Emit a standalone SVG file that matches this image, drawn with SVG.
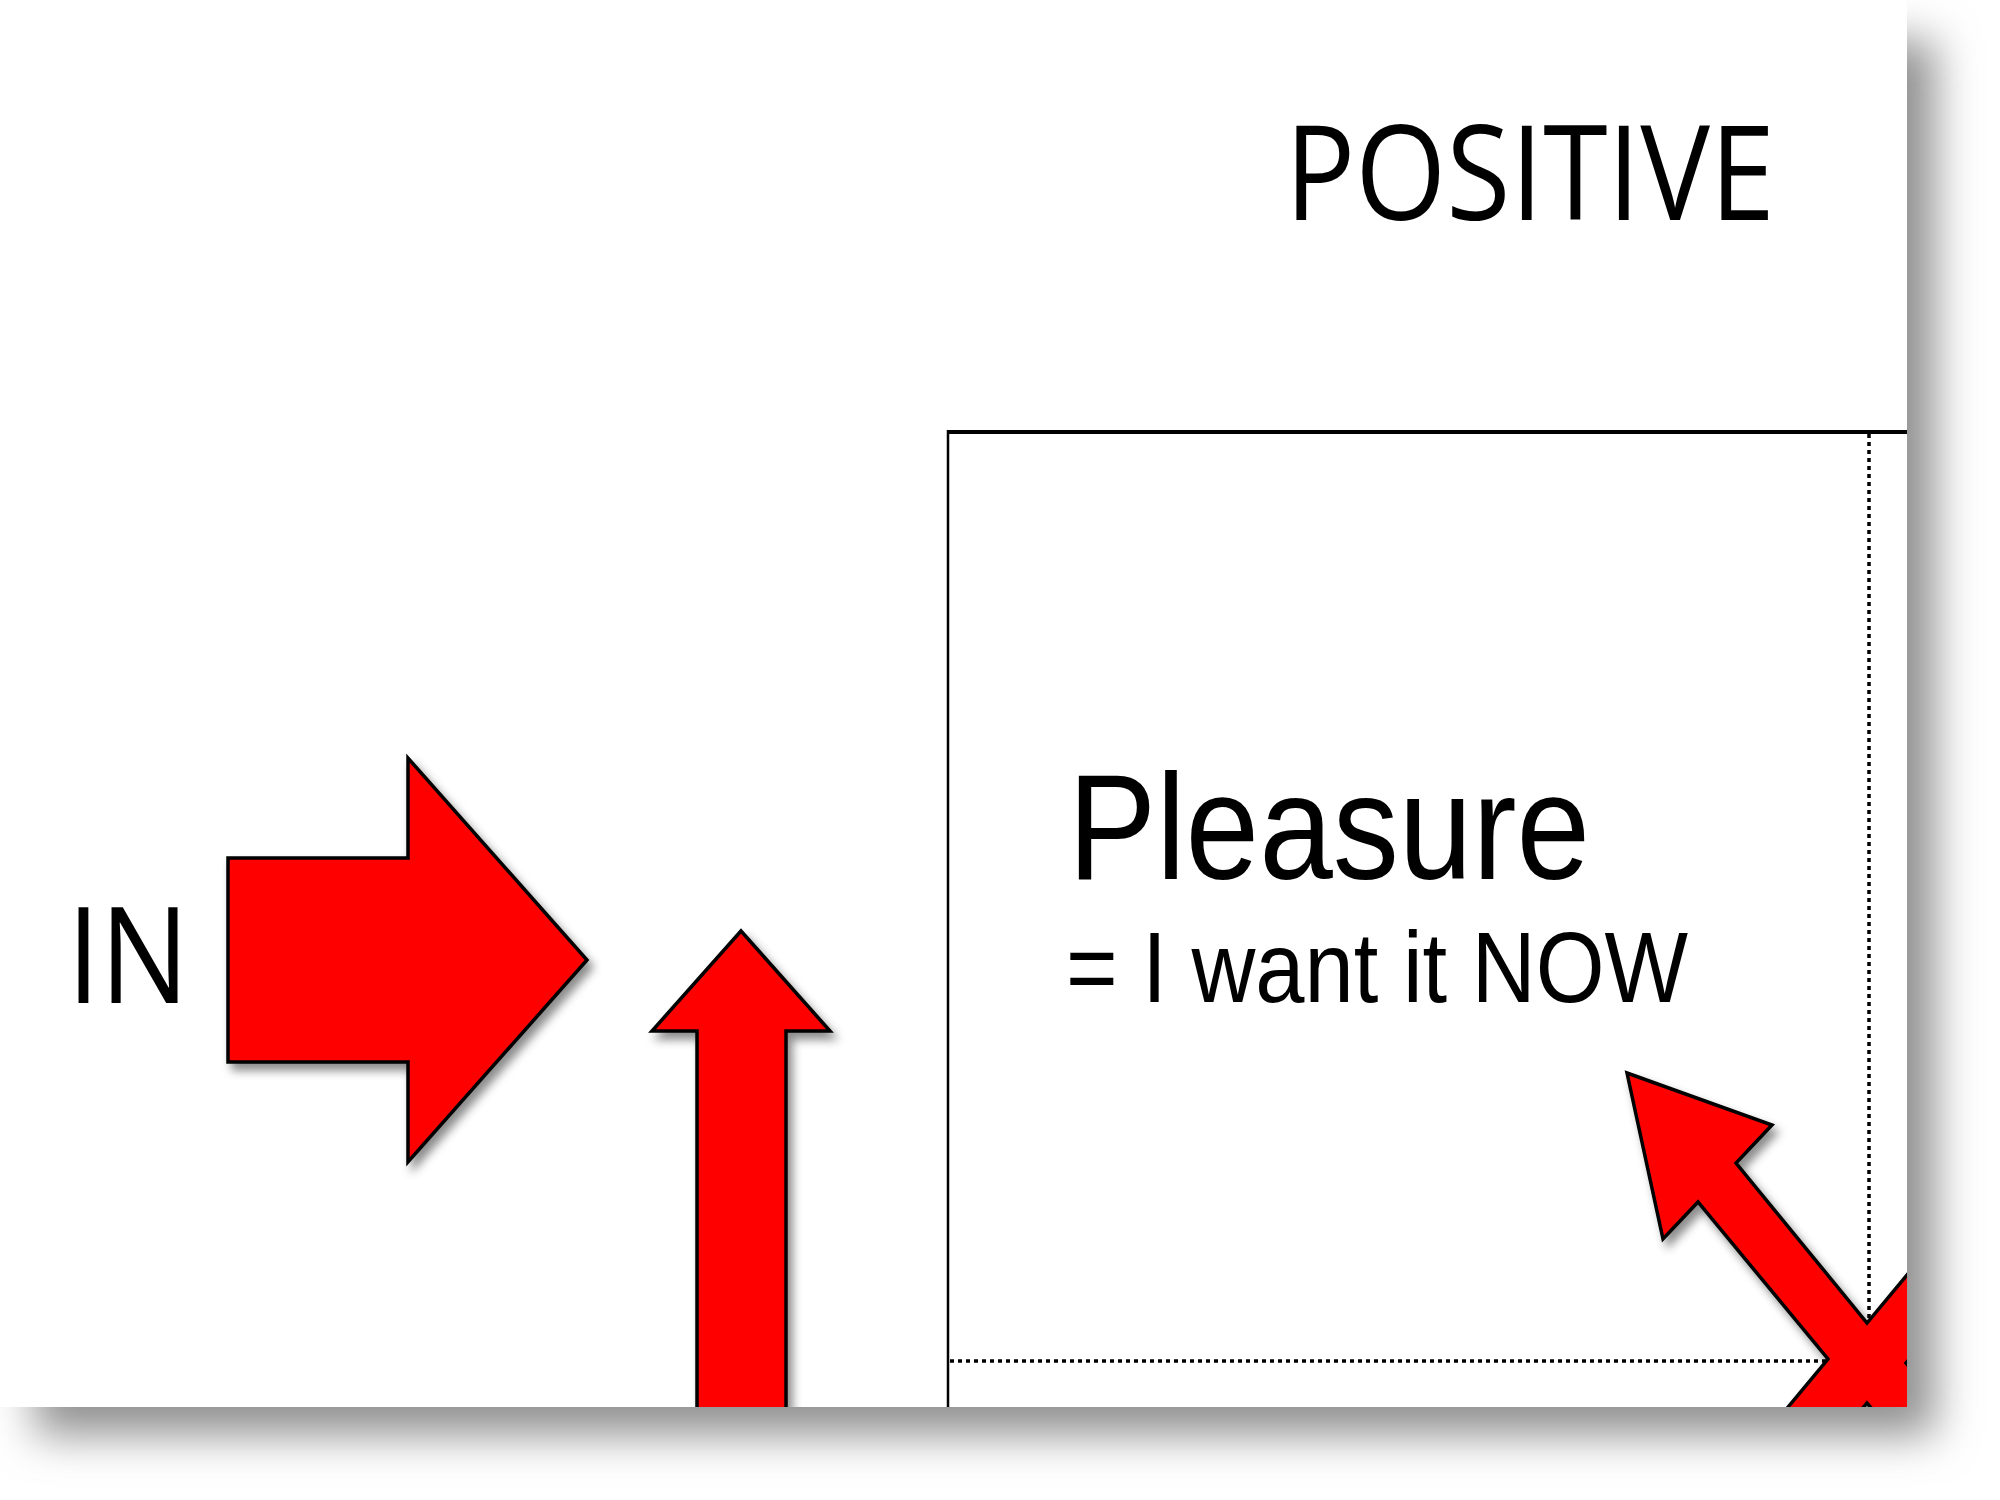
<svg xmlns="http://www.w3.org/2000/svg" width="2000" height="1500" viewBox="0 0 2000 1500">
<defs>
<style>
.arrow{fill:#ff0000;stroke:#000;stroke-width:3.5;stroke-linejoin:miter;filter:url(#ds)}
.lbl{font-family:"Open Sans","Liberation Sans",sans-serif;fill:#000}
.txt{font-family:"Liberation Sans",Arial,sans-serif;fill:#000}
.dot{stroke:#000;stroke-width:3.5;stroke-dasharray:4 4;fill:none}
</style>
<filter id="pageShadow" x="-10%" y="-10%" width="120%" height="120%"><feGaussianBlur stdDeviation="22"/></filter>
<filter id="ds" x="-20%" y="-20%" width="140%" height="140%"><feDropShadow dx="5" dy="7" stdDeviation="5" flood-color="#000" flood-opacity="0.45"/></filter>
<clipPath id="page"><rect x="0" y="0" width="1907" height="1407"/></clipPath>
</defs>
<rect width="2000" height="1500" fill="#fff"/>
<rect x="35" y="40" width="1900" height="1395" fill="#909090" filter="url(#pageShadow)"/>
<rect x="0" y="0" width="1907" height="1407" fill="#fff"/>
<g clip-path="url(#page)">
  <g id="positive-label">
    <text class="lbl" x="1285" y="220" font-size="132" textLength="490" lengthAdjust="spacingAndGlyphs">POSITIVE</text>
  </g>
  <g id="pleasure-box">
    <line x1="948" y1="432" x2="1910" y2="432" stroke="#000" stroke-width="4"/>
    <line x1="948" y1="430" x2="948" y2="1410" stroke="#000" stroke-width="2.5"/>
    <line class="dot" x1="1869" y1="434" x2="1869" y2="1330"/>
    <line class="dot" x1="950" y1="1361" x2="1830" y2="1361"/>
    <text class="txt" x="1068" y="879" font-size="151" textLength="522" lengthAdjust="spacingAndGlyphs">Pleasure</text>
    <text class="txt" x="1066" y="1002" font-size="100" textLength="622" lengthAdjust="spacingAndGlyphs">= I want it NOW</text>
  </g>
  <g id="in-label">
    <text class="lbl" x="67" y="1003" font-size="133" textLength="122" lengthAdjust="spacingAndGlyphs">IN</text>
  </g>
  <g id="connectors">
    <polygon id="arrow-in" class="arrow" points="228,858 408,858 408,758 587,960 408,1162 408,1062 228,1062"/>
    <polygon id="arrow-up" class="arrow" points="741,931 830,1031 786,1031 786,1460 697,1460 697,1031 652,1031"/>
    <polygon id="arrow-cross" class="arrow" points="1627,1073 1772,1125 1736,1163 1867,1323 2059,1092 2101,1127 1906,1363 2098,1594 2059,1634 1867,1403 1675,1634 1636,1590 1828,1359 1698,1202 1663,1239"/>
  </g>
</g>
</svg>
